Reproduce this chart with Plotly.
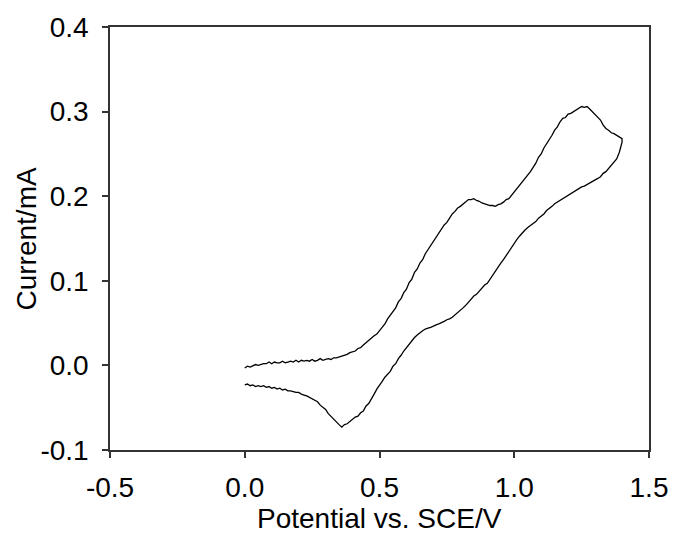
import plotly.graph_objects as go

# Cyclic voltammogram: forward sweep 0 -> 1.4 V, then reverse sweep 1.4 -> 0 V
forward_potential = [
    0.00, 0.01, 0.02, 0.03, 0.04, 0.05, 0.06, 0.07, 0.08, 0.09,
    0.10, 0.11, 0.12, 0.13, 0.14, 0.15, 0.16, 0.17, 0.18, 0.19,
    0.20, 0.21, 0.22, 0.23, 0.24, 0.25, 0.26, 0.27, 0.28, 0.29,
    0.30, 0.31, 0.32, 0.33, 0.34, 0.35, 0.36, 0.37, 0.38, 0.39,
    0.40, 0.41, 0.42, 0.43, 0.44, 0.45, 0.46, 0.47, 0.48, 0.49,
    0.50, 0.51, 0.52, 0.53, 0.54, 0.55, 0.56, 0.57, 0.58, 0.59,
    0.60, 0.61, 0.62, 0.63, 0.64, 0.65, 0.66, 0.67, 0.68, 0.69,
    0.70, 0.71, 0.72, 0.73, 0.74, 0.75, 0.76, 0.77, 0.78, 0.79,
    0.80, 0.81, 0.82, 0.83, 0.84, 0.85, 0.86, 0.87, 0.88, 0.89,
    0.90, 0.91, 0.92, 0.93, 0.94, 0.95, 0.96, 0.97, 0.98, 0.99,
    1.00, 1.01, 1.02, 1.03, 1.04, 1.05, 1.06, 1.07, 1.08, 1.09,
    1.10, 1.11, 1.12, 1.13, 1.14, 1.15, 1.16, 1.17, 1.18, 1.19,
    1.20, 1.21, 1.22, 1.23, 1.24, 1.25, 1.26, 1.27, 1.28, 1.29,
    1.30, 1.31, 1.32, 1.33, 1.34, 1.35, 1.36, 1.37, 1.38, 1.39,
    1.40,
]
forward_current = [
    -0.003, -0.001, -0.002, 0.000, 0.001, 0.000, 0.001, 0.002, 0.002, 0.004,
    0.002, 0.004, 0.003, 0.003, 0.005, 0.003, 0.004, 0.005, 0.004, 0.006,
    0.004, 0.006, 0.005, 0.006, 0.005, 0.007, 0.005, 0.006, 0.008, 0.006,
    0.007, 0.008, 0.007, 0.009, 0.009, 0.010, 0.011, 0.012, 0.013, 0.015,
    0.016, 0.017, 0.020, 0.021, 0.024, 0.027, 0.029, 0.032, 0.035, 0.037,
    0.041, 0.046, 0.049, 0.055, 0.059, 0.063, 0.068, 0.075, 0.079, 0.086,
    0.090, 0.098, 0.102, 0.110, 0.114, 0.121, 0.125, 0.132, 0.137, 0.141,
    0.147, 0.152, 0.156, 0.162, 0.166, 0.169, 0.174, 0.179, 0.182, 0.186,
    0.188, 0.191, 0.193, 0.196, 0.196, 0.197, 0.195, 0.194, 0.192, 0.191,
    0.190, 0.189, 0.189, 0.188, 0.190, 0.191, 0.193, 0.196, 0.197, 0.201,
    0.204, 0.209, 0.213, 0.216, 0.220, 0.225, 0.229, 0.234, 0.239, 0.246,
    0.250, 0.257, 0.262, 0.266, 0.272, 0.278, 0.282, 0.288, 0.292, 0.293,
    0.297, 0.298, 0.300, 0.303, 0.304, 0.306, 0.305, 0.306, 0.303, 0.300,
    0.296, 0.294, 0.290, 0.284, 0.280, 0.278, 0.275, 0.274, 0.272, 0.270,
    0.268,
]

reverse_potential = [
    1.40, 1.39, 1.38, 1.37, 1.36, 1.35, 1.34, 1.33, 1.32, 1.31,
    1.30, 1.29, 1.28, 1.27, 1.26, 1.25, 1.24, 1.23, 1.22, 1.21,
    1.20, 1.19, 1.18, 1.17, 1.16, 1.15, 1.14, 1.13, 1.12, 1.11,
    1.10, 1.09, 1.08, 1.07, 1.06, 1.05, 1.04, 1.03, 1.02, 1.01,
    1.00, 0.99, 0.98, 0.97, 0.96, 0.95, 0.94, 0.93, 0.92, 0.91,
    0.90, 0.89, 0.88, 0.87, 0.86, 0.85, 0.84, 0.83, 0.82, 0.81,
    0.80, 0.79, 0.78, 0.77, 0.76, 0.75, 0.74, 0.73, 0.72, 0.71,
    0.70, 0.69, 0.68, 0.67, 0.66, 0.65, 0.64, 0.63, 0.62, 0.61,
    0.60, 0.59, 0.58, 0.57, 0.56, 0.55, 0.54, 0.53, 0.52, 0.51,
    0.50, 0.49, 0.48, 0.47, 0.46, 0.45, 0.44, 0.43, 0.42, 0.41,
    0.40, 0.39, 0.38, 0.37, 0.36, 0.35, 0.34, 0.33, 0.32, 0.31,
    0.30, 0.29, 0.28, 0.27, 0.26, 0.25, 0.24, 0.23, 0.22, 0.21,
    0.20, 0.19, 0.18, 0.17, 0.16, 0.15, 0.14, 0.13, 0.12, 0.11,
    0.10, 0.09, 0.08, 0.07, 0.06, 0.05, 0.04, 0.03, 0.02, 0.01,
    0.00,
]
reverse_current = [
    0.264, 0.252, 0.244, 0.240, 0.236, 0.233, 0.229, 0.227, 0.223, 0.221,
    0.219, 0.218, 0.216, 0.213, 0.212, 0.211, 0.209, 0.207, 0.206, 0.203,
    0.202, 0.199, 0.197, 0.196, 0.193, 0.191, 0.188, 0.186, 0.183, 0.179,
    0.177, 0.174, 0.170, 0.168, 0.165, 0.163, 0.160, 0.157, 0.153, 0.149,
    0.144, 0.140, 0.134, 0.130, 0.125, 0.121, 0.116, 0.111, 0.107, 0.101,
    0.097, 0.095, 0.091, 0.087, 0.084, 0.082, 0.078, 0.074, 0.071, 0.068,
    0.065, 0.063, 0.060, 0.057, 0.055, 0.054, 0.052, 0.050, 0.049, 0.048,
    0.046, 0.045, 0.044, 0.043, 0.041, 0.039, 0.036, 0.033, 0.029, 0.026,
    0.021, 0.017, 0.012, 0.008, 0.002, -0.001, -0.007, -0.010, -0.014, -0.019,
    -0.023, -0.028, -0.034, -0.039, -0.045, -0.048, -0.054, -0.056, -0.060, -0.061,
    -0.064, -0.066, -0.069, -0.070, -0.073, -0.070, -0.067, -0.064, -0.060, -0.057,
    -0.052, -0.050, -0.047, -0.043, -0.041, -0.040, -0.038, -0.036, -0.035, -0.034,
    -0.032, -0.032, -0.031, -0.030, -0.030, -0.028, -0.029, -0.027, -0.028, -0.026,
    -0.027, -0.025, -0.026, -0.024, -0.025, -0.024, -0.025, -0.023, -0.024, -0.022,
    -0.023,
]

x_ticks = [-0.5, 0.0, 0.5, 1.0, 1.5]
y_ticks = [-0.1, 0.0, 0.1, 0.2, 0.3, 0.4]
x_title = "Potential vs. SCE/V"
y_title = "Current/mA"

potential = forward_potential + reverse_potential
current = forward_current + reverse_current

fig = go.Figure()
fig.add_trace(go.Scatter(
    x=potential, y=current, mode="lines",
    line=dict(color="black", width=1.3),
    showlegend=False,
))

font = dict(family="Liberation Sans, Arial, sans-serif", size=28, color="black")
axis_common = dict(
    showgrid=False, zeroline=False,
    showline=True, linecolor="#333333", linewidth=1.5, mirror=True,
    ticks="outside", ticklen=6, tickwidth=1.5, tickcolor="#333333",
    tickfont=font,
)

fig.update_xaxes(
    range=[-0.5, 1.5], tickvals=x_ticks, ticktext=[f"{v:.1f}" for v in x_ticks],
    ticklabelstandoff=6,
    **axis_common,
)
fig.update_yaxes(
    range=[-0.1, 0.4], tickvals=y_ticks, ticktext=[f"{v:.1f}" for v in y_ticks],
    ticklabelstandoff=8,
    **axis_common,
)

# Axis titles placed as annotations for precise positioning
fig.add_annotation(
    text=x_title, xref="paper", yref="paper", x=0.5, y=-0.163,
    xanchor="center", yanchor="middle", showarrow=False, font=font,
)
fig.add_annotation(
    text=y_title, xref="paper", yref="paper", x=-0.154, y=0.5,
    xanchor="center", yanchor="middle", textangle=-90, showarrow=False, font=font,
)

fig.update_layout(
    width=680, height=536,
    margin=dict(l=110, r=26, t=24, b=86),
    paper_bgcolor="white", plot_bgcolor="white",
    font=font,
)

fig.write_html("out.html")
